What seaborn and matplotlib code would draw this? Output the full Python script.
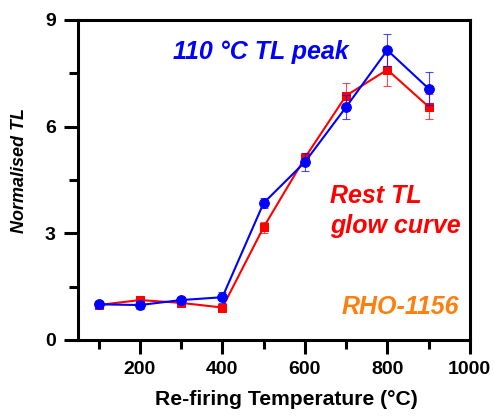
import matplotlib
matplotlib.use("Agg")
import matplotlib.pyplot as plt
from matplotlib.ticker import MultipleLocator
import seaborn as sns
import pandas as pd

# Re-firing temperatures (°C)
temperature = [100, 200, 300, 400, 500, 600, 700, 800, 900]

# 110 °C TL peak (blue)
peak_tl = [1.0, 0.98, 1.12, 1.2, 3.85, 5.0, 6.55, 8.15, 7.07]
peak_err = [0.1, 0.12, 0.1, 0.15, 0.15, 0.25, 0.35, 0.45, 0.47]

# Rest TL glow curve (red)
rest_tl = [0.98, 1.12, 1.04, 0.91, 3.17, 5.12, 6.87, 7.6, 6.56]
rest_err = [0.08, 0.12, 0.08, 0.06, 0.15, 0.15, 0.35, 0.45, 0.35]

BLUE = "#0000ff"
RED = "#ff0000"
ORANGE = "#ff7f0e"

sns.set_style("ticks", {"axes.edgecolor": "black", "text.color": "black",
                        "xtick.color": "black", "ytick.color": "black",
                        "axes.labelcolor": "black"})
plt.rcParams["font.family"] = ["Liberation Sans", "DejaVu Sans"]
plt.rcParams["font.weight"] = "bold"

df = pd.DataFrame({"temp": temperature, "peak": peak_tl, "rest": rest_tl})

fig, ax = plt.subplots(figsize=(4.94, 4.16), dpi=100)
fig.subplots_adjust(left=0.158, right=0.951, top=0.952, bottom=0.183)

# red series first, blue on top
ax.errorbar(temperature, rest_tl, yerr=rest_err, fmt="none", ecolor=RED,
            elinewidth=0.8, capsize=3, capthick=0.8, alpha=0.7, zorder=2)
sns.lineplot(data=df, x="temp", y="rest", ax=ax, color=RED, marker="s",
             markersize=5.5, markeredgecolor=RED, linewidth=1.5, zorder=3)
ax.errorbar(temperature, peak_tl, yerr=peak_err, fmt="none", ecolor=BLUE,
            elinewidth=0.8, capsize=3, capthick=0.8, alpha=0.7, zorder=4)
sns.lineplot(data=df, x="temp", y="peak", ax=ax, color=BLUE, marker="o",
             markersize=7, markeredgecolor=BLUE, linewidth=1.5, zorder=5)

ax.set_xlim(50, 1000)
ax.set_ylim(0, 9)
ax.xaxis.set_major_locator(MultipleLocator(200))
ax.xaxis.set_minor_locator(MultipleLocator(100))
ax.yaxis.set_major_locator(MultipleLocator(3))
ax.yaxis.set_minor_locator(MultipleLocator(1.5))
ax.set_xticks([200, 400, 600, 800, 1000])

for side in ax.spines.values():
    side.set_linewidth(2.2)
    side.set_color("black")
ax.tick_params(which="major", length=10, width=2.2, labelsize=14, direction="out",
               colors="black")
ax.tick_params(axis="x", which="major", pad=5)
ax.tick_params(axis="y", which="major", pad=6)
ax.tick_params(which="minor", length=6.5, width=2.2, direction="out", colors="black")
for lbl in ax.get_xticklabels() + ax.get_yticklabels():
    lbl.set_fontweight("bold")

ax.set_xlabel("Re-firing Temperature (°C)", fontsize=15.2, fontweight="bold",
              labelpad=9, x=0.533)
ax.set_ylabel("Normalised TL", fontsize=13, fontweight="bold", style="italic",
              labelpad=12, y=0.528)

ax.text(0.467, 0.9, "110 °C TL peak", transform=ax.transAxes, color=BLUE,
        fontsize=18, fontweight="bold", style="italic", ha="center", va="center")
ax.text(0.643, 0.403, "Rest TL\nglow curve", transform=ax.transAxes, color=RED,
        fontsize=18, fontweight="bold", style="italic", ha="left", va="center",
        linespacing=1.3)
ax.text(0.972, 0.103, "RHO-1156", transform=ax.transAxes, color=ORANGE,
        fontsize=18, fontweight="bold", style="italic", ha="right", va="center")

fig.savefig("out.png", dpi=100)
